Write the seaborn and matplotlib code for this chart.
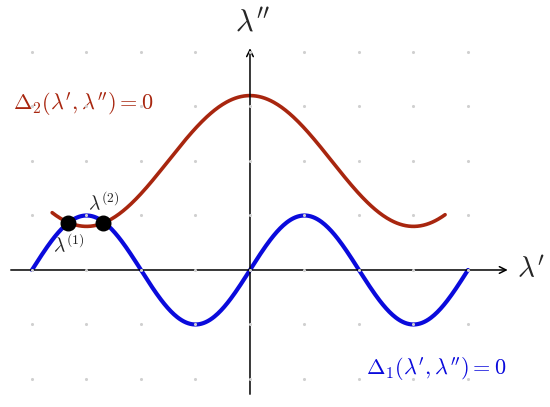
import numpy as np
import matplotlib
matplotlib.use("Agg")
import matplotlib.pyplot as plt
import seaborn as sns

# curve settings (1 unit = one grid step)
blue_range = [-4.0, 4.0]
blue_amp = 1.0
blue_period = 4.0
red_range = [-3.63, 3.58]
red_mid = 2.0
red_amp = 1.2
red_period = 6.0

# intersection points (estimated)
pt_x = [-3.34, -2.70]
pt_y = [0.87, 0.87]
pt_labels = [r"$\lambda^{(1)}$", r"$\lambda^{(2)}$"]

# grid of dots
grid_x = [-4, -3, -2, -1, 0, 1, 2, 3, 4]
grid_y = [-2, -1, 0, 1, 2, 3, 4]

sns.set_theme(style="white")
plt.rcParams["mathtext.fontset"] = "cm"
plt.rcParams["font.family"] = ["DejaVu Serif"]

blue_col = "#0a0adc"
red_col = "#a8260f"

fig = plt.figure(figsize=(5.5, 4.07), dpi=100)
ax = fig.add_axes([0, 0, 1, 1])
ax.set_xlim(-4.587, 5.505)
ax.set_ylim(-2.514, 4.954)
ax.axis("off")

# axes with arrows
ax.annotate("", xy=(4.78, 0), xytext=(-4.44, 0),
            arrowprops=dict(arrowstyle="->", color="black", lw=1.1))
ax.annotate("", xy=(0, 4.12), xytext=(0, -2.33),
            arrowprops=dict(arrowstyle="->", color="black", lw=1.1))

xb = np.linspace(blue_range[0], blue_range[1], 400)
yb = blue_amp * np.sin(2 * np.pi * xb / blue_period)
sns.lineplot(x=xb, y=yb, ax=ax, color=blue_col, lw=3, sort=False)

xr = np.linspace(red_range[0], red_range[1], 400)
yr = red_mid + red_amp * np.cos(2 * np.pi * xr / red_period)
sns.lineplot(x=xr, y=yr, ax=ax, color=red_col, lw=2.6, sort=False)

gx, gy = np.meshgrid(grid_x, grid_y)
ax.scatter(gx.ravel(), gy.ravel(), s=5, color="#d0d0d0", zorder=5, linewidths=0)

ax.scatter(pt_x, pt_y, s=110, color="black", zorder=6)
ax.text(pt_x[0] + 0.02, pt_y[0] - 0.2, pt_labels[0], ha="center", va="top", fontsize=14)
ax.text(pt_x[1] + 0.02, pt_y[1] + 0.15, pt_labels[1], ha="center", va="bottom", fontsize=14)

ax.text(0.05, 4.55, r"$\lambda''$", ha="center", va="center", fontsize=22)
ax.text(4.9, 0, r"$\lambda'$", ha="left", va="center", fontsize=21)
ax.text(-4.35, 3.05, r"$\Delta_2(\lambda',\lambda'')=0$", ha="left", va="center",
        fontsize=16, color=red_col)
ax.text(2.12, -1.82, r"$\Delta_1(\lambda',\lambda'')=0$", ha="left", va="center",
        fontsize=16, color=blue_col)

fig.savefig("out.png", dpi=100)
